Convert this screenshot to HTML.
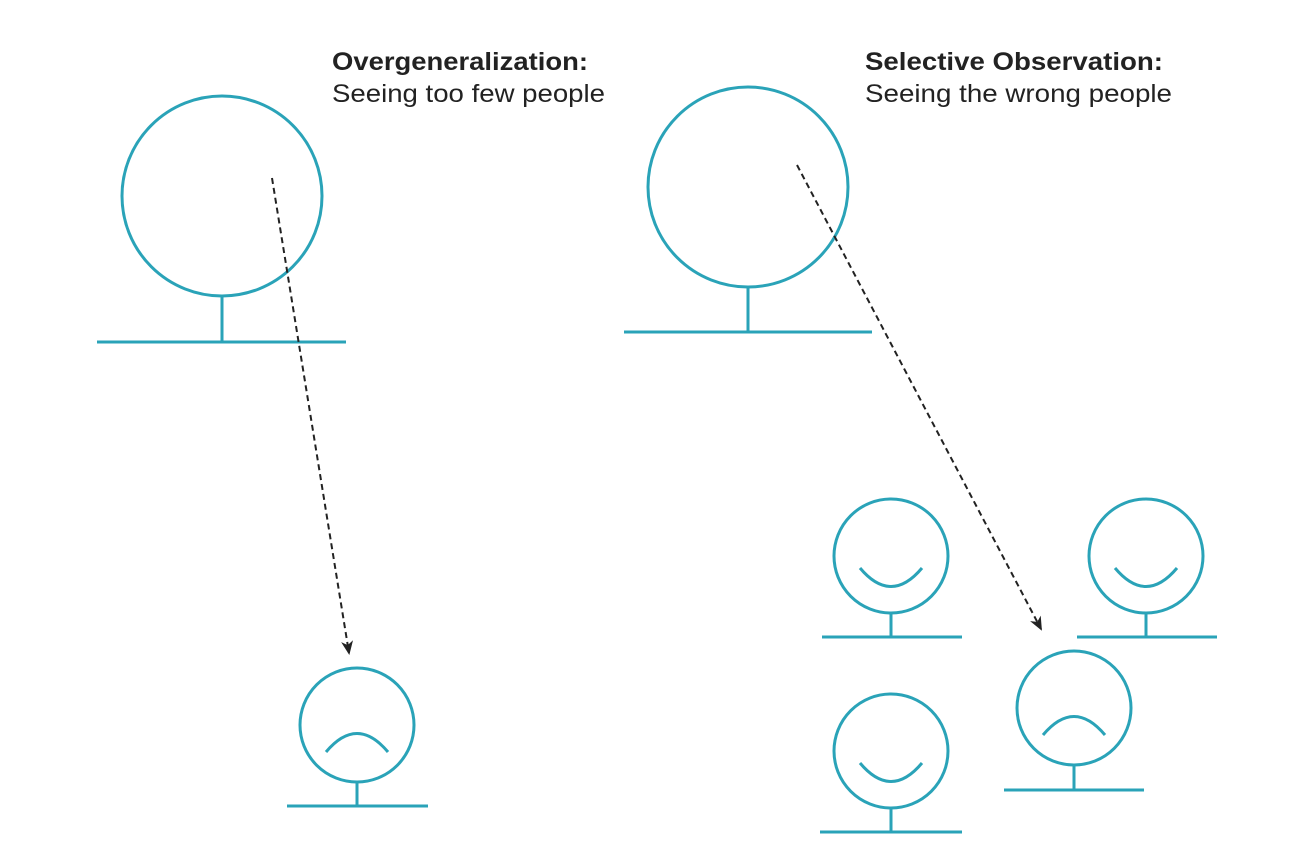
<!DOCTYPE html>
<html><head><style>html,body{margin:0;padding:0;background:#fff;}svg{display:block}</style></head>
<body>
<svg width="1300" height="868" viewBox="0 0 1300 868" xmlns="http://www.w3.org/2000/svg">
<defs>
<marker id="ah" markerWidth="14" markerHeight="12" refX="12" refY="6" orient="auto" markerUnits="userSpaceOnUse">
<path d="M0,0 L14,6 L0,12 L4,6 z" fill="#222"/>
</marker>
</defs>
<g font-family="Liberation Sans, Arial, sans-serif" fill="#222" font-size="25">
<text x="332" y="70" font-weight="bold" textLength="256" lengthAdjust="spacingAndGlyphs">Overgeneralization:</text>
<text x="332" y="102" textLength="273" lengthAdjust="spacingAndGlyphs">Seeing too few people</text>
<text x="865" y="70" font-weight="bold" textLength="298" lengthAdjust="spacingAndGlyphs">Selective Observation:</text>
<text x="865" y="102" textLength="307" lengthAdjust="spacingAndGlyphs">Seeing the wrong people</text>
</g>
<g fill="none" stroke="#2aa3b8" stroke-width="3">
<circle cx="222" cy="196" r="100"/><line x1="222" y1="296" x2="222" y2="342"/><line x1="97" y1="342" x2="346" y2="342"/>
<circle cx="748" cy="187" r="100"/><line x1="748" y1="287" x2="748" y2="332"/><line x1="624" y1="332" x2="872" y2="332"/>
<circle cx="357" cy="725" r="57"/><line x1="357" y1="782" x2="357" y2="806"/><line x1="287" y1="806" x2="428" y2="806"/>
<path d="M326,752 Q357,715 388,752"/>
<circle cx="891" cy="556" r="57"/><line x1="891" y1="613" x2="891" y2="637"/><line x1="822" y1="637" x2="962" y2="637"/>
<path d="M860,568 Q891,605 922,568"/>
<circle cx="1146" cy="556" r="57"/><line x1="1146" y1="613" x2="1146" y2="637"/><line x1="1077" y1="637" x2="1217" y2="637"/>
<path d="M1115,568 Q1146,605 1177,568"/>
<circle cx="891" cy="751" r="57"/><line x1="891" y1="808" x2="891" y2="832"/><line x1="820" y1="832" x2="962" y2="832"/>
<path d="M860,763 Q891,800 922,763"/>
<circle cx="1074" cy="708" r="57"/><line x1="1074" y1="765" x2="1074" y2="790"/><line x1="1004" y1="790" x2="1144" y2="790"/>
<path d="M1043,735 Q1074,698 1105,735"/>
</g>
<g stroke="#222" stroke-width="2" stroke-dasharray="6,4" fill="none">
<line x1="272" y1="178" x2="349" y2="653" marker-end="url(#ah)"/>
<line x1="797" y1="165" x2="1041" y2="629" marker-end="url(#ah)"/>
</g>
</svg>
</body></html>
